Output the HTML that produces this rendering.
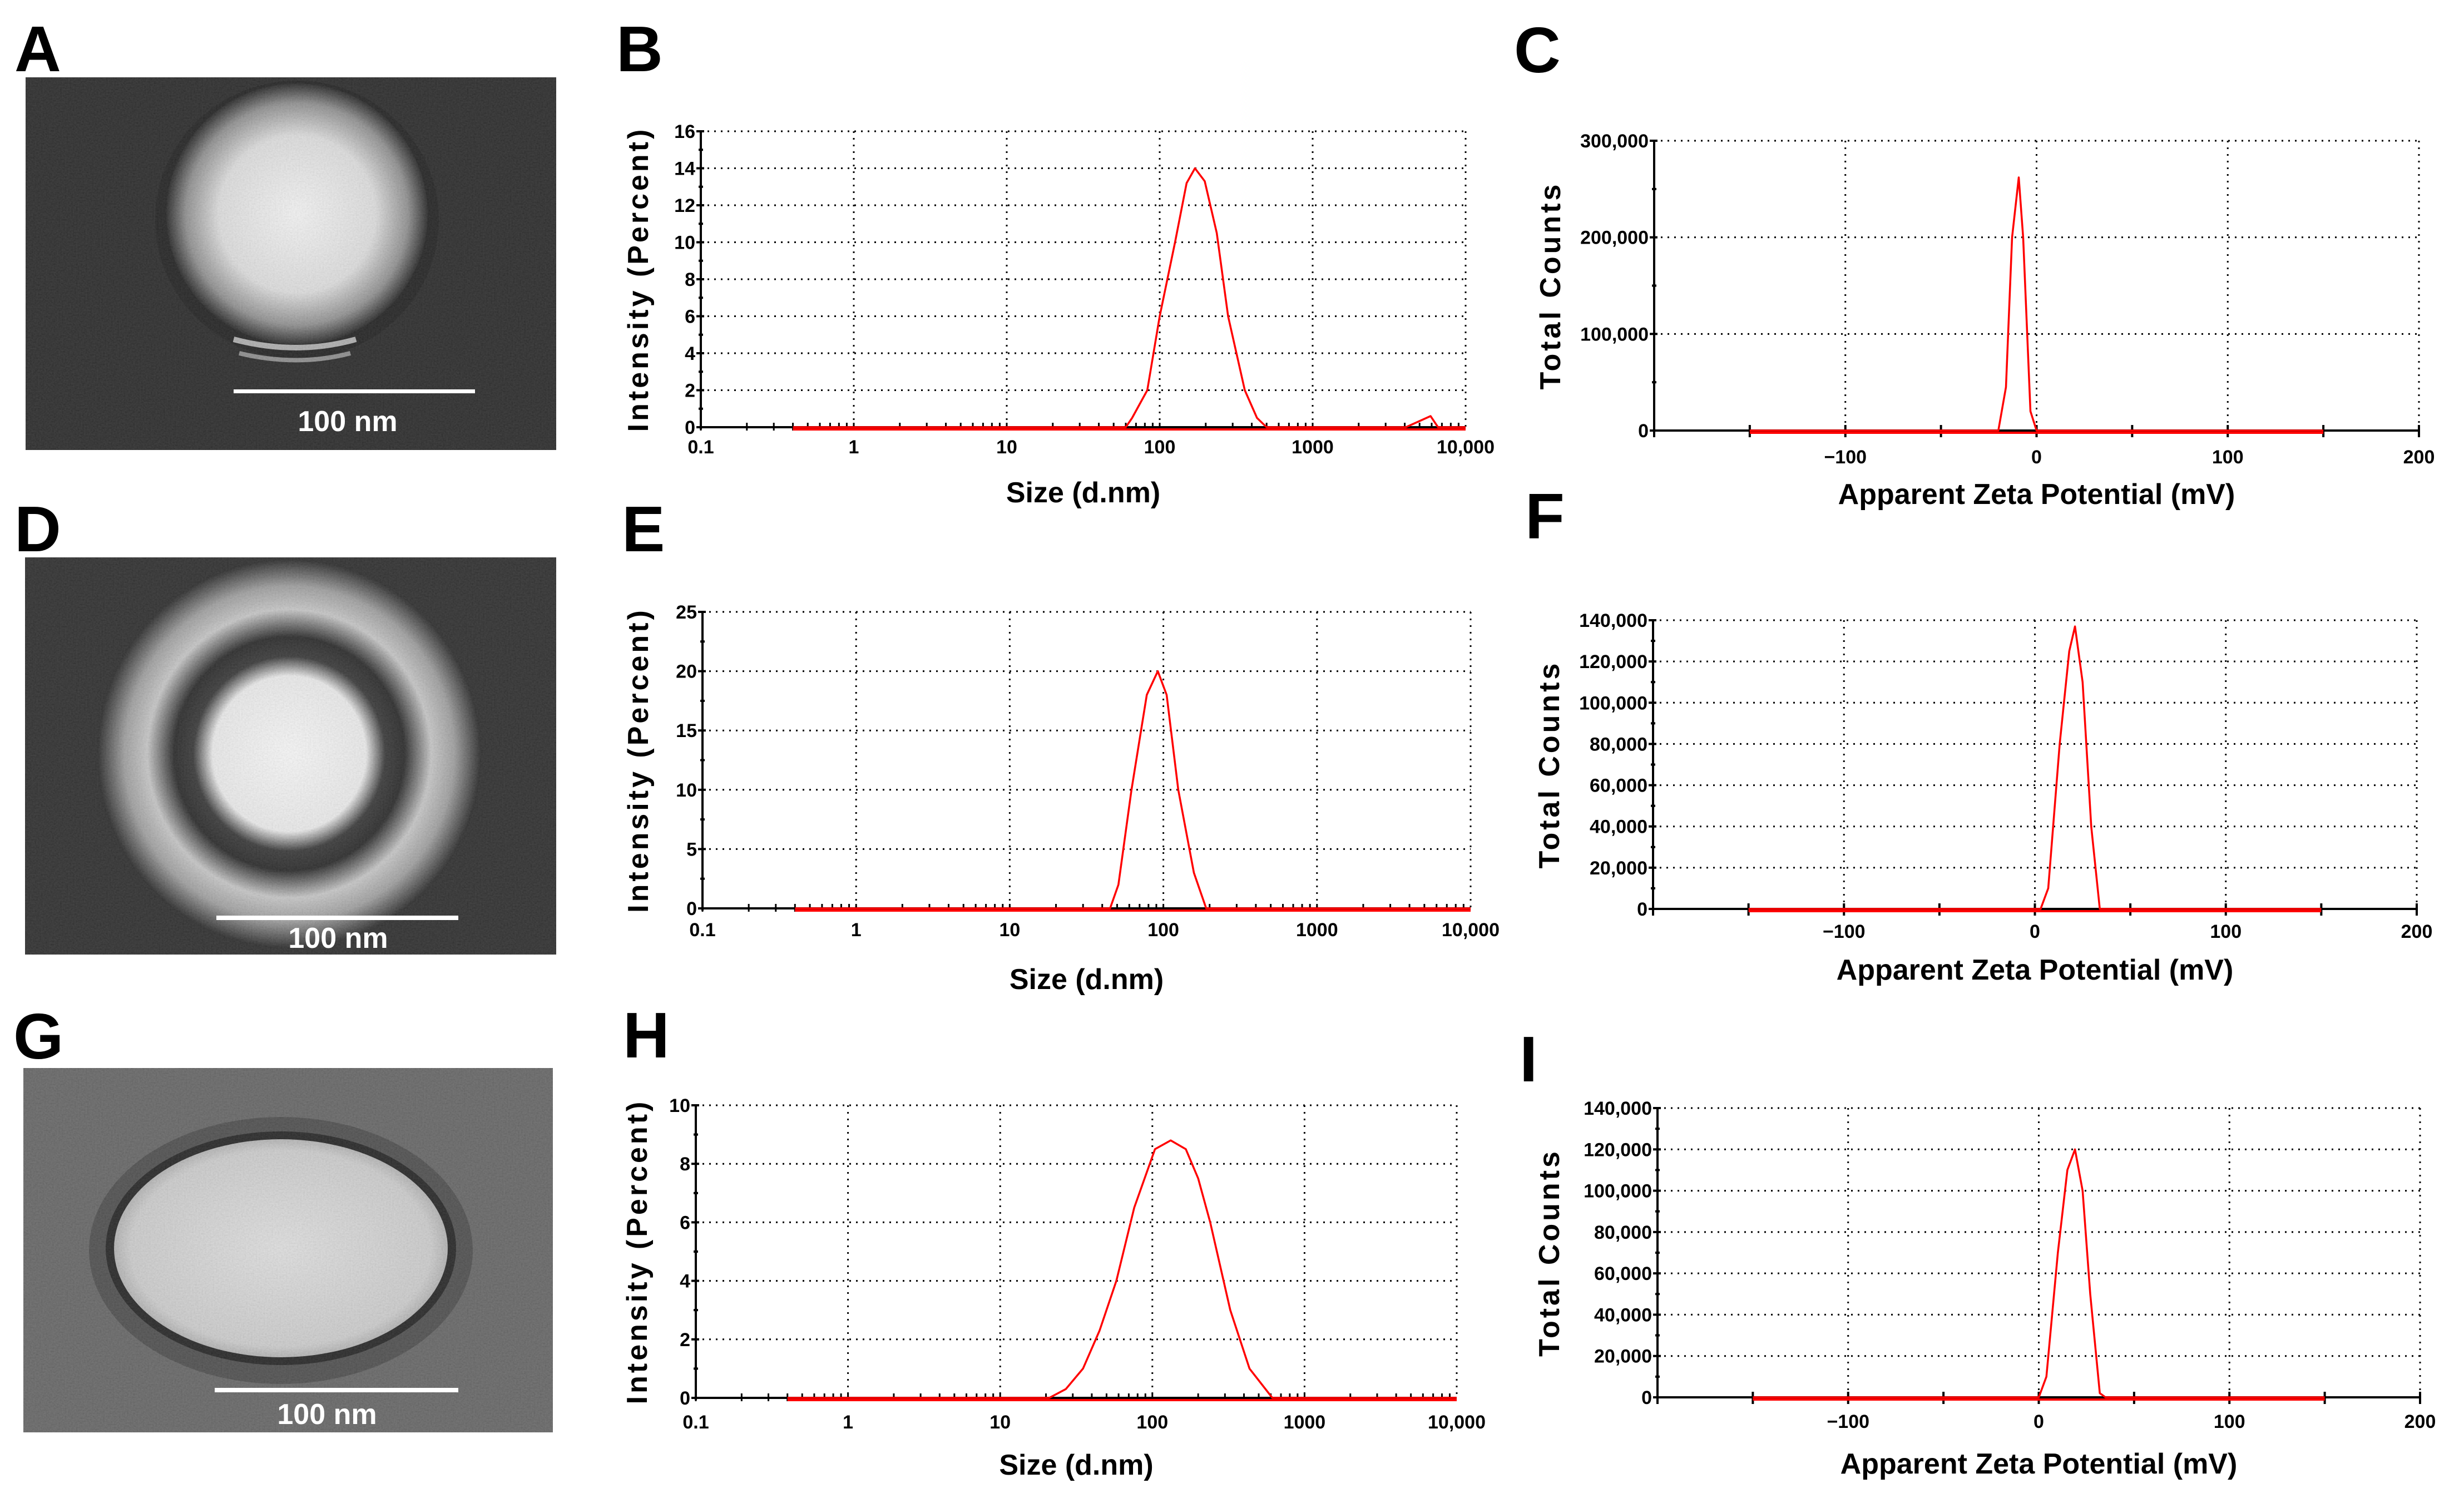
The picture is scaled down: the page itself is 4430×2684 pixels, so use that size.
<!DOCTYPE html>
<html><head><meta charset="utf-8">
<style>
html,body{margin:0;padding:0;background:#fff;}
svg{display:block;}
text{font-family:"Liberation Sans",Arial,sans-serif;}
</style></head>
<body>
<svg id="fig" width="4430" height="2684" viewBox="0 0 4430 2684" xmlns="http://www.w3.org/2000/svg">
<defs>
  <filter id="noise" x="0" y="0" width="100%" height="100%">
    <feTurbulence type="fractalNoise" baseFrequency="0.35" numOctaves="2" seed="3"/>
    <feColorMatrix type="saturate" values="0"/>
    <feComponentTransfer><feFuncA type="linear" slope="0" intercept="0.18"/></feComponentTransfer>
  </filter>
  <radialGradient id="gA" cx="0.5" cy="0.5" r="0.5">
    <stop offset="0" stop-color="#f4f4f4"/>
    <stop offset="0.6" stop-color="#dcdcdc"/>
    <stop offset="0.85" stop-color="#8a8a8a"/>
    <stop offset="1" stop-color="#1e1e1e"/>
  </radialGradient>
  <radialGradient id="gD" cx="0.5" cy="0.5" r="0.5">
    <stop offset="0" stop-color="#f8f8f8"/>
    <stop offset="0.4" stop-color="#eaeaea"/>
    <stop offset="0.5" stop-color="#2e2e2e"/>
    <stop offset="0.6" stop-color="#1e1e1e"/>
    <stop offset="0.74" stop-color="#c4c4c4"/>
    <stop offset="0.86" stop-color="#9a9a9a"/>
    <stop offset="1" stop-color="#1e1e1e"/>
  </radialGradient>
  <radialGradient id="gG" cx="0.5" cy="0.5" r="0.5">
    <stop offset="0" stop-color="#dedede"/>
    <stop offset="0.9" stop-color="#cacaca"/>
    <stop offset="1" stop-color="#b0b0b0"/>
  </radialGradient>
</defs>

<!-- TEM images -->
<g>
  <rect x="46" y="139" width="954" height="670" fill="#1e1e1e"/>
  <ellipse cx="534" cy="395" rx="255" ry="250" fill="#111" opacity="0.6"/>
  <ellipse cx="534" cy="385" rx="235" ry="235" fill="url(#gA)"/>
  <path d="M420 610 Q534 640 640 610" stroke="#aaa" stroke-width="10" fill="none"/>
  <path d="M430 635 Q534 660 630 635" stroke="#888" stroke-width="8" fill="none"/>
  <rect x="46" y="139" width="954" height="670" filter="url(#noise)"/>
  <rect x="420" y="700" width="434" height="7" fill="#fff"/>
  <text x="625" y="775" font-size="52" font-weight="bold" fill="#fff" text-anchor="middle">100 nm</text>
</g>
<g>
  <rect x="45" y="1002" width="955" height="714" fill="#222"/>
  <ellipse cx="520" cy="1355" rx="345" ry="350" fill="url(#gD)"/>
  <rect x="45" y="1002" width="955" height="714" filter="url(#noise)"/>
  <rect x="389" y="1646" width="435" height="8" fill="#fff"/>
  <text x="608" y="1704" font-size="52" font-weight="bold" fill="#fff" text-anchor="middle">100 nm</text>
</g>
<g>
  <rect x="42" y="1920" width="952" height="655" fill="#5e5e5e"/>
  <ellipse cx="505" cy="2248" rx="345" ry="240" fill="#3a3a3a" opacity="0.7"/>
  <ellipse cx="505" cy="2244" rx="315" ry="210" fill="#1a1a1a"/>
  <ellipse cx="505" cy="2244" rx="300" ry="196" fill="url(#gG)"/>
  <rect x="42" y="1920" width="952" height="655" filter="url(#noise)"/>
  <rect x="386" y="2495" width="438" height="8" fill="#fff"/>
  <text x="588" y="2560" font-size="52" font-weight="bold" fill="#fff" text-anchor="middle">100 nm</text>
</g>

<!-- Panel letters -->
<g font-weight="bold" font-size="116" fill="#000">
<text x="26" y="128">A</text>
<text x="1108" y="128">B</text>
<text x="2722" y="130">C</text>
<text x="26" y="991">D</text>
<text x="1118" y="991">E</text>
<text x="2742" y="968">F</text>
<text x="24" y="1903">G</text>
<text x="1120" y="1901">H</text>
<text x="2732" y="1944">I</text>
</g>
<g id="charts"></g>
</svg>

<script>
// ---- Data ----
const sizeTickValues=[0.1,1,10,100,1000,10000];
const sizeTickLabels=["0.1","1","10","100","1000","10,000"];
const zetaTickValues=[-100,0,100,200];
const zetaTickLabels=["\u2212100","0","100","200"];

const bSize=[0.4,60,66,83,100,126,150,170,197,236,280,360,433,500,4070,5900,6600,10000];
const bIntensity=[0,0,0.5,2,6,10,13.2,14,13.3,10.5,6,2,0.5,0,0,0.6,0,0];
const bYTicks=[0,2,4,6,8,10,12,14,16];

const eSize=[0.4,45,51,62,78,92,105,125,158,190,10000];
const eIntensity=[0,0,2,10,18,20,18,10,3,0,0];
const eYTicks=[0,5,10,15,20,25];

const hSize=[0.4,21,27,35,45,58,76,104,132,166,200,240,325,435,615,10000];
const hIntensity=[0,0,0.3,1,2.3,4,6.5,8.5,8.8,8.5,7.5,6,3,1,0,0];
const hYTicks=[0,2,4,6,8,10];

const cZeta=[-150,-20,-16,-12.8,-9.3,-7,-3.2,0,150];
const cCounts=[0,0,45000,200000,262000,200000,20000,0,0];
const cYTicks=[0,100000,200000,300000];

const fZeta=[-150,3,7,13,18,21,25,29.5,34,150];
const fCounts=[0,0,10000,80000,125000,137000,110000,40000,0,0];
const fYTicks=[0,20000,40000,60000,80000,100000,120000,140000];

const iZeta=[-150,0,4,10,15,19,23,27,32,35,150];
const iCounts=[0,0,10000,70000,110000,120000,100000,50000,2000,0,0];
const iYTicks=[0,20000,40000,60000,80000,100000,120000,140000];

const NS="http://www.w3.org/2000/svg";
const root=document.getElementById('charts');
function el(tag,attrs,parent){const e=document.createElementNS(NS,tag);for(const k in attrs)e.setAttribute(k,attrs[k]);(parent||root).appendChild(e);return e;}
function fmt(v){return v.toLocaleString('en-US');}

function drawChart(id,box,kind,xs,ys,yTicks,yMax,xTitle,yTitle,tickDy,titleDy,yTitleX,ySpacing){
  const g=el('g',{});
  
  
  const L=box[0],R=box[1],T=box[2],B=box[3];
  let xScale;
  if(kind==='log') xScale=v=>L+(Math.log10(v)+1)/5*(R-L);
  else xScale=v=>L+(v+200)/400*(R-L);
  const yScale=v=>B-v/yMax*(B-T);
  const dot={stroke:'#000','stroke-width':3,'stroke-dasharray':'3 9',fill:'none'};
  yTicks.forEach((v,i)=>{
    if(v===0)return;
    const y=yScale(v);
    const ln=el('line',Object.assign({x1:L,x2:R,y1:y,y2:y},dot),g);
    
    
  });
  const xtv = kind==='log'?sizeTickValues:[-100,0,100,200];
  xtv.forEach(v=>{
    const x=xScale(v);
    if(Math.abs(x-L)<1)return;
    const ln=el('line',Object.assign({x1:x,x2:x,y1:T,y2:B},dot),g);
    
    
  });
  el('line',Object.assign({x1:L,x2:R,y1:T,y2:T},dot),g);
  for(let i=0;i<yTicks.length;i++){
    const y=yScale(yTicks[i]);
    el('line',{x1:L-8,x2:L+6,y1:y,y2:y,stroke:'#000','stroke-width':4},g);
    if(i<yTicks.length-1){const ym=yScale((yTicks[i]+yTicks[i+1])/2);el('line',{x1:L-4,x2:L+4,y1:ym,y2:ym,stroke:'#000','stroke-width':4},g);}
  }
  if(kind==='log'){
    for(let d=-1;d<4;d++)for(let m=1;m<10;m++){const x=xScale(m*Math.pow(10,d));el('line',{x1:x,x2:x,y1:B-8,y2:B+6,stroke:'#000','stroke-width':3},g);}
  } else {
    for(let v=-200;v<=200;v+=50){const x=xScale(v);el('line',{x1:x,x2:x,y1:B-10,y2:B+12,stroke:'#000','stroke-width':4},g);}
  }
  const bx0 = kind==='log'?xScale(0.4):xScale(-150), bx1= kind==='log'?xScale(10000):xScale(150);
  el('line',{x1:bx0,x2:bx1,y1:B+3,y2:B+3,stroke:'#f00','stroke-width':6},g);
  const ax=el('line',{x1:L,x2:L,y1:T,y2:B+4,stroke:'#000','stroke-width':4},g);
  
  
  const bx=el('line',{x1:L,x2:R,y1:B,y2:B,stroke:'#000','stroke-width':4},g);
  
  
  let d='';
  xs.forEach((v,i)=>{d+=(i?'L':'M')+xScale(v).toFixed(1)+' '+yScale(ys[i]).toFixed(1);});
  const p=el('path',{d:d,stroke:'#f00','stroke-width':3.5,fill:'none','stroke-linejoin':'round'},g);
  
  
  yTicks.forEach(v=>{
    const t=el('text',{x:L-10,y:yScale(v)+12,'font-size':34,'font-weight':'bold','text-anchor':'end'},g);
    t.textContent= kind==='log'?String(v):fmt(v);
    
    
  });
  const labs = kind==='log'?sizeTickLabels:zetaTickLabels;
  const vals = kind==='log'?sizeTickValues:zetaTickValues;
  vals.forEach((v,i)=>{
    const t=el('text',{x:xScale(v),y:B+tickDy,'font-size':34,'font-weight':'bold','text-anchor':'middle'},g);
    t.textContent=labs[i];
    
    
  });
  const xt=el('text',{x:(L+R)/2,y:B+titleDy,'font-size':52,'font-weight':'bold','text-anchor':'middle'},g);
  xt.textContent=xTitle;
  
  
  const cy=(T+B)/2;
  const yt=el('text',{x:yTitleX,y:cy,'font-size':52,'font-weight':'bold','text-anchor':'middle','letter-spacing':ySpacing,transform:'rotate(-90 '+yTitleX+' '+cy+')'},g);
  yt.textContent=yTitle;
  
  
}

drawChart('b',[1260,2635,236,768],'log',bSize,bIntensity,bYTicks,16,'Size (d.nm)','Intensity (Percent)',47,135,1165,5);
drawChart('e',[1263,2644,1100,1633],'log',eSize,eIntensity,eYTicks,25,'Size (d.nm)','Intensity (Percent)',50,145,1165,5);
drawChart('h',[1251,2619,1987,2513],'log',hSize,hIntensity,hYTicks,10,'Size (d.nm)','Intensity (Percent)',55,138,1163,5);
drawChart('c',[2974,4349,253,774],'lin',cZeta,cCounts,cYTicks,300000,'Apparent Zeta Potential (mV)','Total Counts',59,132,2805,5);
drawChart('f',[2972,4345,1115,1634],'lin',fZeta,fCounts,fYTicks,140000,'Apparent Zeta Potential (mV)','Total Counts',52,127,2803,5);
drawChart('i',[2980,4351,1992,2512],'lin',iZeta,iCounts,iYTicks,140000,'Apparent Zeta Potential (mV)','Total Counts',55,137,2803,5);
</script>
</body></html>
